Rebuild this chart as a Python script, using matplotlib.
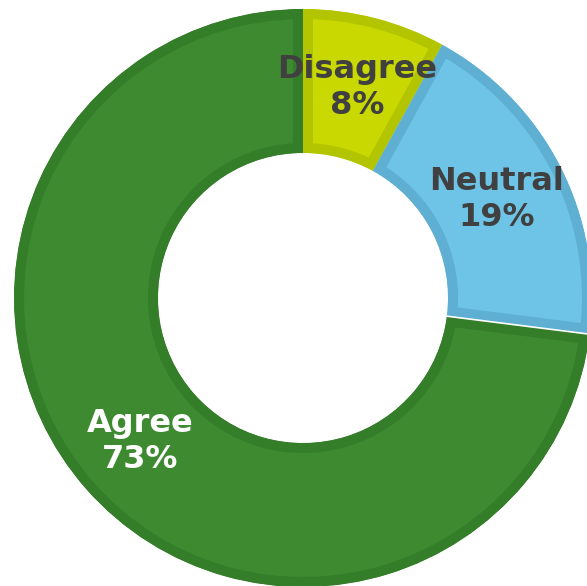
import numpy as np
import matplotlib.pyplot as plt
from matplotlib.path import Path

labels = ["Disagree", "Neutral", "Agree"]
values = [8, 19, 73]
fills = ["#c8d800", "#6ec4e6", "#3d8a30"]
borders = ["#b3c400", "#5eafd2", "#347d29"]
text_colors = ["#404040", "#404040", "#ffffff"]

fig = plt.figure(figsize=(5.87, 5.86), dpi=100)
ax = fig.add_axes([0, 0, 1, 1])

R = 289
r_in = 145
cx, cy = 303, 288
wedges, _ = ax.pie(values, colors=fills, startangle=90, counterclock=False,
                   center=(cx, cy), radius=R, frame=True,
                   wedgeprops=dict(width=R - r_in))
# border only on the inside of each segment: clip the stroke to the wedge
for w, b in zip(wedges, borders):
    w.set_edgecolor(b)
    w.set_linewidth(14.4)
    p = Path(w.get_path().vertices.copy(), w.get_path().codes)
    w.set_clip_on(True)
    w.set_clip_path(p, ax.transData)

ang = 90.0
for lab, v, tc in zip(labels, values, text_colors):
    span = v / sum(values) * 360
    mid = np.deg2rad(ang - span / 2)
    ang -= span
    rm = (R + r_in) / 2
    x = cx + rm * np.cos(mid)
    y = cy + rm * np.sin(mid)
    ax.text(x, y + 18, lab, ha="center", va="center", fontsize=23,
            fontweight="bold", color=tc)
    ax.text(x, y - 18, f"{v}%", ha="center", va="center", fontsize=23,
            fontweight="bold", color=tc)
    if lab == "Neutral":
        # thin white seam between Neutral and Agree
        e = np.deg2rad(ang)
        ax.plot([cx + r_in * np.cos(e), cx + R * np.cos(e)],
                [cy + r_in * np.sin(e), cy + R * np.sin(e)],
                color="white", lw=1.2)

ax.set_xlim(0, 587)
ax.set_ylim(0, 586)
ax.set_aspect("equal")
ax.axis("off")
fig.savefig("out.png", dpi=100)
